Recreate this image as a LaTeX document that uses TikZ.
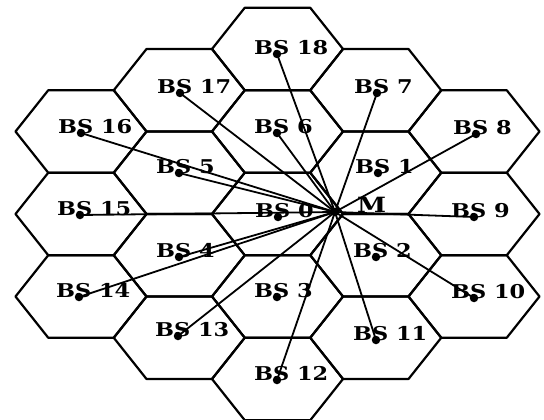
\documentclass[tikz,border=0pt]{standalone}
\usepackage{fontspec}
\usepackage{graphicx}
\setmainfont{DejaVu Serif}
\tikzset{
  hexline/.style={line width=2.2pt, line join=round},
  conn/.style={line width=1.8pt},
  bsdot/.style={circle, fill=black, inner sep=0pt, minimum size=8.5pt},
  bslabel/.style={anchor=base west, inner sep=0pt, font=\fontsize{19}{22}\selectfont\bfseries},
  mlabel/.style={anchor=base west, inner sep=0pt, font=\fontsize{21}{24}\selectfont\bfseries},
}
\begin{document}
\begin{tikzpicture}[x=1pt,y=-1pt]
\useasboundingbox (0,0) rectangle (544,420);
% hexagonal cells
\foreach \cx/\cy in {277.5/49, 277.5/131.5, 277.5/214, 277.5/296.5, 277.5/379,
                     179.25/90.25, 179.25/172.75, 179.25/255.25, 179.25/337.75,
                     375.75/90.25, 375.75/172.75, 375.75/255.25, 375.75/337.75,
                     81/131.5, 81/214, 81/296.5,
                     474/131.5, 474/214, 474/296.5}
  \draw[hexline] (\cx-65.5,\cy) -- (\cx-32.75,\cy-41.25) -- (\cx+32.75,\cy-41.25)
     -- (\cx+65.5,\cy) -- (\cx+32.75,\cy+41.25) -- (\cx-32.75,\cy+41.25) -- cycle;
% base stations
\foreach \n/\dx/\dy in {0/278/217, 1/378/173, 2/376/257, 3/277/297, 4/179/257,
                        5/179/173, 6/277/133, 7/377/93, 8/476/134, 9/474/217,
                        10/474/298, 11/376/340, 12/277/380, 13/178/336, 14/79/297,
                        15/80/215, 16/81/133, 17/180/93, 18/277/54}
{
  \node[bsdot] (b\n) at (\dx,\dy) {};
  \node[bslabel] (l\n) at (\dx-23,\dy+0.5) {\scalebox{1.18}[1]{BS \n}};
}
% mobile
\node[bsdot] (m) at (335,212) {};
\node[mlabel] (mlab) at (357,212.5) {\scalebox{1.25}[1]{M}};
% links
\foreach \n in {4,...,18}
  \draw[conn] (m.center) -- (b\n.center);
\end{tikzpicture}
\end{document}
